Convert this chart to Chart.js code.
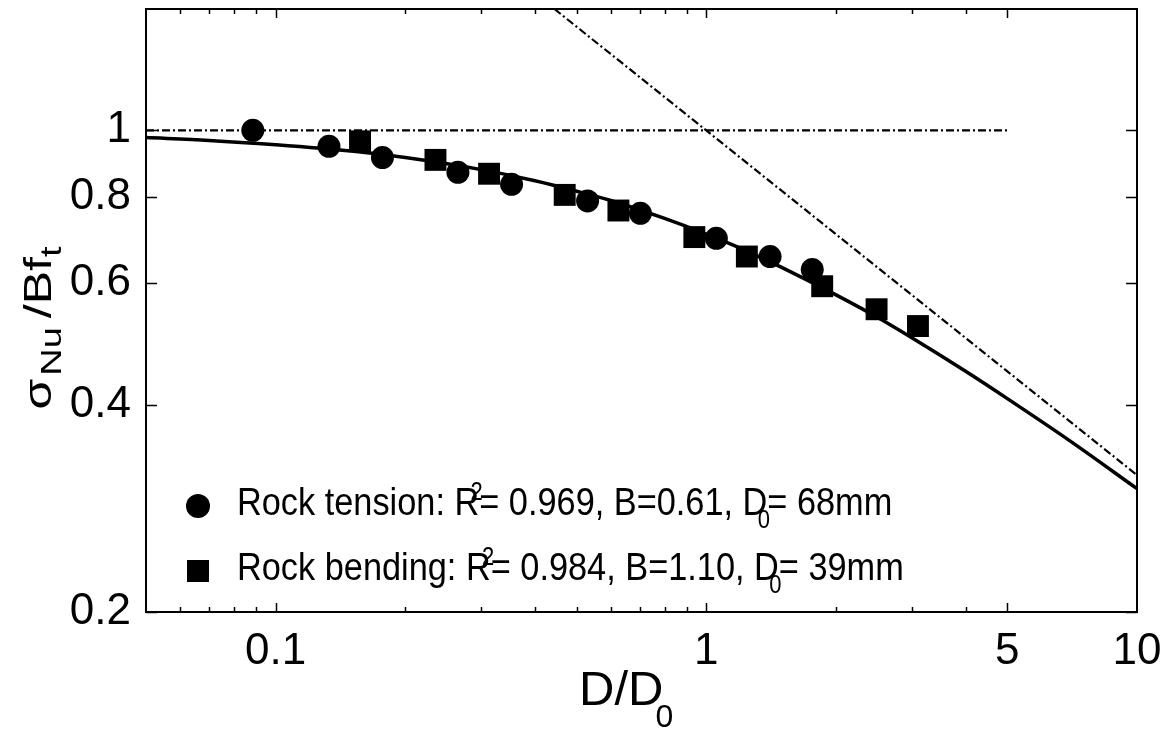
<!DOCTYPE html>
<html>
<head>
<meta charset="utf-8">
<script src="https://cdn.jsdelivr.net/npm/chart.js@4.4.1/dist/chart.umd.min.js"></script>
<style>
  html, body { margin: 0; padding: 0; background: #fff; }
  canvas { display: block; }
</style>
</head>
<body>
<canvas id="c" width="1167" height="729"></canvas>
<script>
// Normalised size effect: D/D0 against sigma_Nu / (B f_t)
const tensionX = [0.0885, 0.133, 0.177, 0.265, 0.353, 0.530, 0.703, 1.055, 1.406, 1.762];
const tensionY = [1.000, 0.948, 0.913, 0.869, 0.835, 0.790, 0.758, 0.697, 0.656, 0.628];

const bendingX = [0.157, 0.235, 0.313, 0.469, 0.625, 0.938, 1.242, 1.858, 2.485, 3.10];
const bendingY = [0.964, 0.906, 0.865, 0.806, 0.765, 0.700, 0.656, 0.594, 0.550, 0.520];

// fitted size-effect law
const fitX = [0.05, 0.07, 0.1, 0.15, 0.2, 0.3, 0.4, 0.5, 0.6, 0.8, 1, 1.25, 1.5, 2, 2.5, 3, 4, 5, 7, 10];
const fitY = [0.976, 0.967, 0.953, 0.933, 0.913, 0.877, 0.845, 0.816, 0.791, 0.745, 0.707, 0.667, 0.632, 0.577, 0.535, 0.500, 0.447, 0.408, 0.354, 0.302];

// strength criterion (horizontal) and LEFM asymptote (slope -1/2)
const strengthX = [0.05, 5];
const strengthY = [1, 1];
const lefmX = [0.444, 10];
const lefmY = [1.5, 0.316];

// axis ticks
const xTickValues = [0.1, 1, 5, 10];
const yTickValues = [0.2, 0.4, 0.6, 0.8, 1];
const xMajorMarks = [0.1, 1, 5];
const xMinorMarks = [0.06, 0.07, 0.08, 0.09, 0.2, 0.3, 0.4, 0.5, 0.6, 0.7, 0.8, 0.9, 2, 3, 4];

const zip = (xs, ys) => xs.map((x, i) => ({ x, y: ys[i] }));
const FONT = '"Liberation Sans", Arial, Helvetica, sans-serif';

// text runs with sub/superscripts, drawn from the current origin
function runWidth(ctx, runs) {
  let cx = 0;
  runs.forEach(r => {
    ctx.font = r.size + 'px ' + FONT;
    if (!r.over) cx += ctx.measureText(r.t).width + (r.gap || 0);
  });
  return cx;
}
function drawRuns(ctx, runs) {
  let cx = 0;
  runs.forEach(r => {
    ctx.font = r.size + 'px ' + FONT;
    const w = ctx.measureText(r.t).width;
    if (r.over) {
      ctx.fillText(r.t, cx - (r.back || 0), r.dy || 0);
    } else {
      ctx.fillText(r.t, cx, r.dy || 0);
      cx += w + (r.gap || 0);
    }
  });
}

const legendRows = [
  { marker: 'circle', runs: [
    { t: 'Rock tension: R', size: 39 },
    { t: '2', size: 25, dy: -15, back: 10, over: true },
    { t: '= 0.969, B=0.61, D', size: 39 },
    { t: '0', size: 25, dy: 13, back: 11, over: true },
    { t: '= 68mm', size: 39 }
  ]},
  { marker: 'rect', runs: [
    { t: 'Rock bending: R', size: 39 },
    { t: '2', size: 25, dy: -15, back: 10, over: true },
    { t: '= 0.984, B=1.10, D', size: 39 },
    { t: '0', size: 25, dy: 13, back: 11, over: true },
    { t: '= 39mm', size: 39 }
  ]}
];

const frameAndText = {
  id: 'frameAndText',
  afterDraw(chart) {
    const { ctx, chartArea: a, scales } = chart;
    const xs = scales.x, ys = scales.y;
    ctx.save();
    ctx.fillStyle = '#000';
    ctx.strokeStyle = '#000';

    // frame
    ctx.lineWidth = 2;
    ctx.strokeRect(a.left, a.top, a.right - a.left, a.bottom - a.top);

    // inward tick marks on all four sides
    ctx.lineWidth = 1.5;
    ctx.beginPath();
    const xMark = (v, len) => {
      const px = Math.round(xs.getPixelForValue(v)) + 0.5;
      ctx.moveTo(px, a.bottom); ctx.lineTo(px, a.bottom - len);
      ctx.moveTo(px, a.top); ctx.lineTo(px, a.top + len);
    };
    xMinorMarks.forEach(v => xMark(v, 5));
    xMajorMarks.forEach(v => xMark(v, 9));
    yTickValues.forEach(v => {
      const py = Math.round(ys.getPixelForValue(v)) + 0.5;
      ctx.moveTo(a.left, py); ctx.lineTo(a.left + 11, py);
      ctx.moveTo(a.right, py); ctx.lineTo(a.right - 11, py);
    });
    ctx.stroke();

    ctx.textBaseline = 'alphabetic';
    ctx.textAlign = 'left';

    // x-axis title: D/D0
    const xTitle = [
      { t: 'D/D', size: 49 },
      { t: '0', size: 32, dy: 22, back: 8, over: true }
    ];
    ctx.save();
    ctx.translate(579, 705);
    drawRuns(ctx, xTitle);
    ctx.restore();

    // y-axis title: sigma_Nu / B f_t (read bottom to top)
    const yTitle = [
      { t: 'σ', size: 50, gap: 3 },
      { t: 'Nu', size: 38, dy: 13, gap: 9 },
      { t: '/Bf', size: 50 },
      { t: 't', size: 38, dy: 13 }
    ];
    ctx.save();
    const yw = runWidth(ctx, yTitle);
    ctx.translate(51, 328 + yw / 2);
    ctx.rotate(-Math.PI / 2);
    ctx.scale(1, 0.78);
    drawRuns(ctx, yTitle);
    ctx.restore();

    // legend
    const rowY = [515, 580];
    legendRows.forEach((row, i) => {
      const my = rowY[i] - 9;
      ctx.beginPath();
      if (row.marker === 'circle') {
        ctx.arc(198, my, 12, 0, Math.PI * 2);
      } else {
        ctx.rect(187, my - 11, 22, 22);
      }
      ctx.fill();
      ctx.save();
      ctx.translate(237, rowY[i]);
      ctx.scale(0.88, 1);
      drawRuns(ctx, row.runs);
      ctx.restore();
    });

    ctx.restore();
  }
};

new Chart(document.getElementById('c'), {
  type: 'scatter',
  data: {
    datasets: [
      {
        label: 'fit',
        type: 'line',
        data: zip(fitX, fitY),
        borderColor: '#000',
        borderWidth: 3.5,
        pointRadius: 0,
        cubicInterpolationMode: 'monotone',
        fill: false,
        order: 3
      },
      {
        label: 'strength',
        type: 'line',
        data: zip(strengthX, strengthY),
        borderColor: '#000',
        borderWidth: 2.2,
        borderDash: [8, 3, 2, 3],
        pointRadius: 0,
        fill: false,
        order: 4
      },
      {
        label: 'LEFM',
        type: 'line',
        data: zip(lefmX, lefmY),
        borderColor: '#000',
        borderWidth: 2.2,
        borderDash: [8, 3, 2, 3],
        pointRadius: 0,
        fill: false,
        order: 4
      },
      {
        label: 'Rock tension',
        data: zip(tensionX, tensionY),
        pointStyle: 'circle',
        pointRadius: 11.5,
        pointHoverRadius: 11.5,
        backgroundColor: '#000',
        borderColor: '#000',
        borderWidth: 0,
        order: 1
      },
      {
        label: 'Rock bending',
        data: zip(bendingX, bendingY),
        pointStyle: 'rect',
        pointRadius: 15.5,
        pointHoverRadius: 15.5,
        backgroundColor: '#000',
        borderColor: '#000',
        borderWidth: 0,
        order: 2
      }
    ]
  },
  options: {
    responsive: false,
    animation: false,
    devicePixelRatio: 1,
    layout: { autoPadding: false, padding: { left: 0, right: 30, top: 9, bottom: 0 } },
    plugins: {
      legend: { display: false },
      tooltip: { enabled: false }
    },
    scales: {
      x: {
        type: 'logarithmic',
        position: 'bottom',
        min: 0.05,
        max: 10,
        grid: { display: false },
        border: { display: false },
        afterBuildTicks: s => { s.ticks = xTickValues.map(v => ({ value: v })); },
        afterFit: s => { s.height = 117; s.paddingLeft = 0; s.paddingRight = 0; },
        ticks: {
          autoSkip: false,
          maxRotation: 0,
          padding: 5,
          color: '#000',
          font: { family: FONT, size: 44 },
          callback: v => String(v)
        }
      },
      y: {
        type: 'logarithmic',
        position: 'left',
        min: 0.2,
        max: 1.5,
        grid: { display: false },
        border: { display: false },
        afterBuildTicks: s => { s.ticks = yTickValues.map(v => ({ value: v })); },
        afterFit: s => { s.width = 146; s.paddingTop = 0; s.paddingBottom = 0; },
        ticks: {
          autoSkip: false,
          padding: 7,
          color: '#000',
          font: { family: FONT, size: 44 },
          callback: v => String(v)
        }
      }
    }
  },
  plugins: [frameAndText]
});
</script>
</body>
</html>
